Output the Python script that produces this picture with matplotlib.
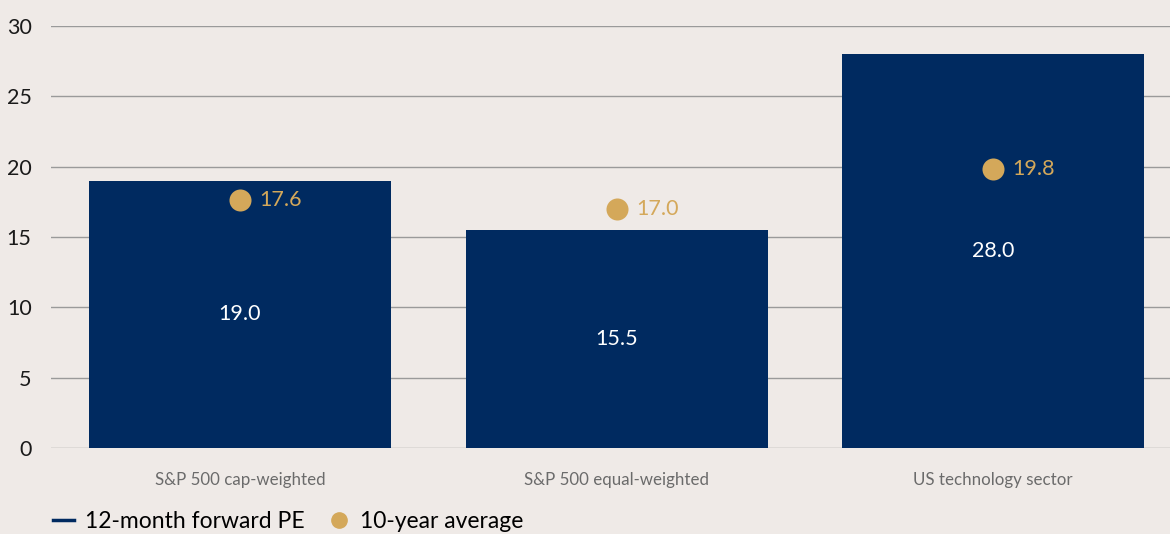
import matplotlib
matplotlib.use("Agg")
import matplotlib.pyplot as plt
from matplotlib.lines import Line2D

categories = ["S&P 500 cap-weighted", "S&P 500 equal-weighted", "US technology sector"]
forward_pe = [19.0, 15.5, 28.0]
ten_year_avg = [17.6, 17.0, 19.8]
yticks = [0, 5, 10, 15, 20, 25, 30]

BG = "#EFEAE7"
NAVY = "#002A60"
GOLD = "#D4A85A"

plt.rcParams['font.family'] = ['Lato', 'DejaVu Sans']

fig = plt.figure(figsize=(11.7, 5.34), dpi=100, facecolor=BG)
ax = fig.add_axes([51/1170, 1-448/534, 1-51/1170, (448-26)/534], facecolor=BG)

x = list(range(len(categories)))
ax.bar(x, forward_pe, width=0.802, color=NAVY, zorder=3)
ax.scatter(x, ten_year_avg, s=22**2*0.52, color=GOLD, zorder=4, linewidths=0)

for xi, v in zip(x, forward_pe):
    ax.text(xi, v/2, f"{v:.1f}", ha="center", va="center", color="white", fontsize=15.5, zorder=5)
for xi, v in zip(x, ten_year_avg):
    ax.annotate(f"{v:.1f}", (xi, v), xytext=(14, 0), textcoords="offset points",
                ha="left", va="center", color=GOLD, fontsize=15.5, zorder=5)

ax.set_xlim(-0.502, 2.47)
ax.set_ylim(0, 30)
ax.set_yticks(yticks)
ax.set_xticks(x)
ax.set_xticklabels(categories, fontsize=12.2, color="#6b6b6b")
ax.tick_params(axis="x", length=0, pad=17)
ax.tick_params(axis="y", length=0, pad=14, labelsize=15.5, labelcolor="#1a1a1a")
ax.yaxis.grid(True, color="#9a9a9a", linewidth=1.0, zorder=0)
ax.set_axisbelow(True)
for s in ax.spines.values():
    s.set_visible(False)

handles = [Line2D([0], [0], color=NAVY, lw=2.5),
           Line2D([0], [0], marker="o", color=GOLD, lw=0, markersize=11)]
fig.legend(handles, ["12-month forward PE", "10-year average"], loc="lower left",
           bbox_to_anchor=(32/1170, -0.035), ncol=2, frameon=False, fontsize=16.5,
           handlelength=0.95, handletextpad=0.45, columnspacing=1.05)

fig.savefig("out.png", dpi=100, facecolor=BG)
